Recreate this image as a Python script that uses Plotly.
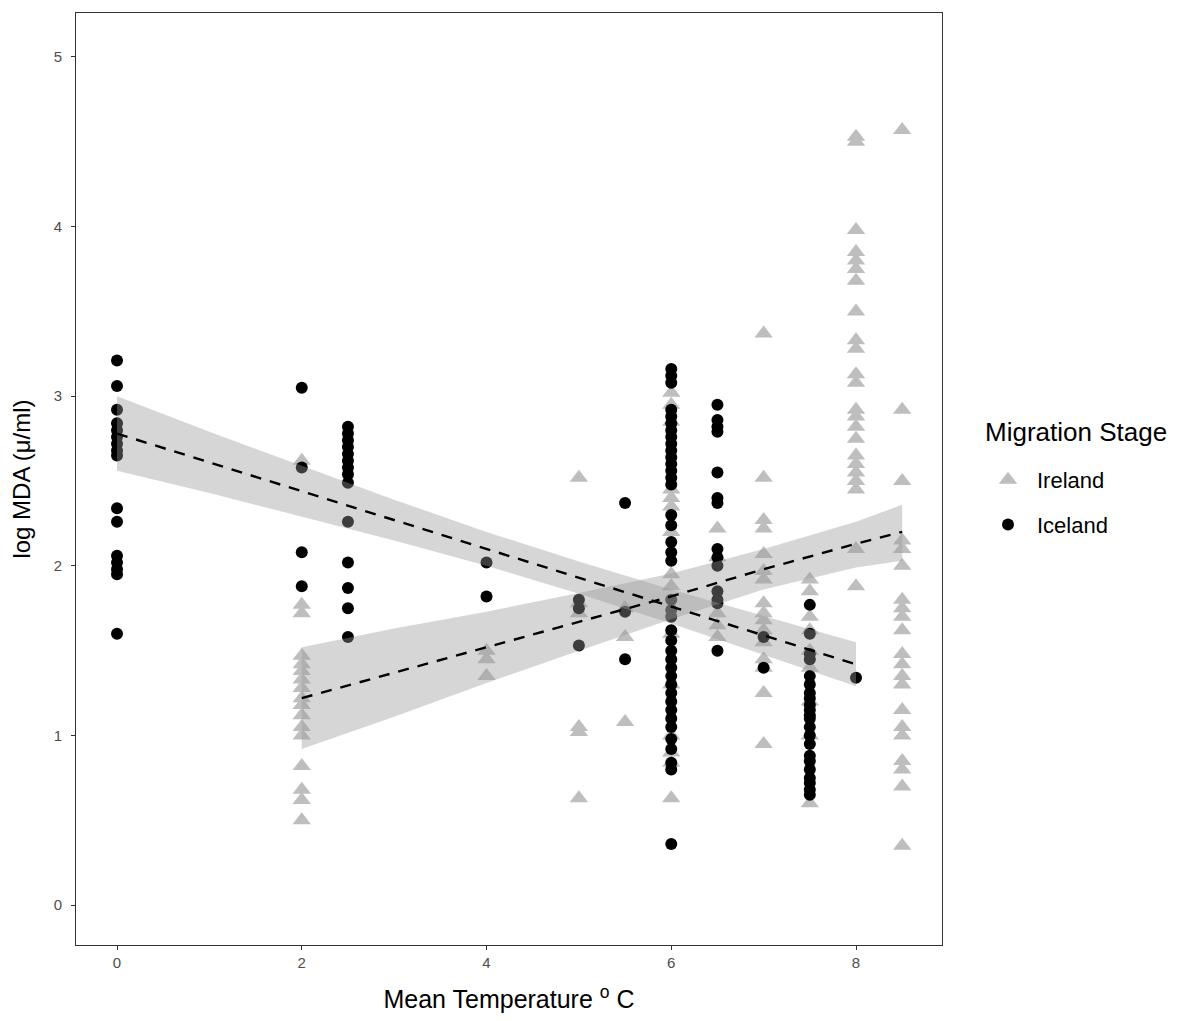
import plotly.graph_objects as go

# ---- data ----
ireland_x = ([2]*17 + [4]*3 + [5]*6 + [5.5]*3 + [6]*15 + [6.5]*5 + [7]*16 + [7.5]*9
             + [8]*23 + [8.5]*21)
ireland_y = ([2.62, 1.77, 1.72, 1.47, 1.42, 1.38, 1.33, 1.28, 1.22, 1.18, 1.12, 1.05, 1.00, 0.82, 0.68, 0.62, 0.50]
             + [1.50, 1.45, 1.35]
             + [2.52, 1.78, 1.72, 1.05, 1.02, 0.63]
             + [1.75, 1.58, 1.08]
             + [3.02, 2.95, 2.85, 2.45, 2.40, 2.35, 2.20, 1.95, 1.88, 1.60, 1.30, 1.00, 0.90, 0.84, 0.63]
             + [2.22, 2.05, 1.72, 1.65, 1.58]
             + [3.37, 2.52, 2.27, 2.22, 2.07, 1.97, 1.92, 1.78, 1.72, 1.68, 1.62, 1.55, 1.45, 1.40, 1.25, 0.95]
             + [1.92, 1.85, 1.70, 1.62, 1.50, 1.40, 1.20, 1.00, 0.60]
             + [4.53, 4.50, 3.98, 3.85, 3.80, 3.75, 3.68, 3.50, 3.33, 3.28, 3.13, 3.08, 2.92, 2.88, 2.82,
                2.75, 2.65, 2.60, 2.55, 2.50, 2.45, 2.10, 1.88]
             + [4.57, 2.92, 2.50, 2.15, 2.10, 2.00, 1.80, 1.75, 1.70, 1.62, 1.48, 1.42, 1.35, 1.30, 1.15,
                1.05, 1.00, 0.85, 0.80, 0.70, 0.35])

iceland_x = ([0]*16 + [2]*4 + [2.5]*14 + [4]*2 + [5]*3 + [5.5]*3 + [6]*40 + [6.5]*14 + [7]*2
             + [7.5]*22 + [8]*1)
iceland_y = ([3.21, 3.06, 2.92, 2.84, 2.80, 2.76, 2.72, 2.68, 2.65, 2.34, 2.26, 2.06, 2.02, 1.98, 1.95, 1.60]
             + [3.05, 2.58, 2.08, 1.88]
             + [2.82, 2.78, 2.74, 2.70, 2.66, 2.62, 2.58, 2.54, 2.49, 2.26, 2.02, 1.87, 1.75, 1.58]
             + [2.02, 1.82]
             + [1.80, 1.75, 1.53]
             + [2.37, 1.73, 1.45]
             + [3.16, 3.12, 3.08, 2.92, 2.88, 2.84, 2.80, 2.76, 2.72, 2.68, 2.64, 2.60, 2.56, 2.52, 2.48,
                2.30, 2.24, 2.14, 2.08, 2.03, 1.80, 1.74, 1.70, 1.62, 1.56, 1.50, 1.45, 1.40, 1.35, 1.30,
                1.25, 1.20, 1.15, 1.10, 1.05, 0.98, 0.92, 0.84, 0.80, 0.36]
             + [2.95, 2.86, 2.82, 2.79, 2.55, 2.40, 2.37, 2.10, 2.05, 2.00, 1.85, 1.80, 1.78, 1.50]
             + [1.58, 1.40]
             + [1.77, 1.60, 1.48, 1.45, 1.35, 1.30, 1.25, 1.22, 1.18, 1.15, 1.12, 1.10, 1.05, 1.00,
                0.95, 0.88, 0.85, 0.80, 0.75, 0.72, 0.68, 0.65]
             + [1.34])

# fitted lines and confidence bands
ice_fit_x = [0, 1, 2, 3, 4, 5, 6, 7, 8]
ice_fit_y = [2.78, 2.61, 2.44, 2.27, 2.10, 1.93, 1.76, 1.59, 1.42]
ice_hi = [3.00, 2.79, 2.59, 2.39, 2.20, 2.025, 1.86, 1.705, 1.55]
ice_lo = [2.56, 2.43, 2.29, 2.15, 2.00, 1.835, 1.66, 1.475, 1.29]

ire_fit_x = [2, 3, 4, 5, 6, 7, 8, 8.5]
ire_fit_y = [1.22, 1.37, 1.52, 1.67, 1.82, 1.98, 2.13, 2.20]
ire_hi = [1.52, 1.63, 1.73, 1.84, 1.955, 2.10, 2.26, 2.36]
ire_lo = [0.92, 1.11, 1.31, 1.50, 1.685, 1.86, 1.99, 2.03]

x_ticks = [0, 2, 4, 6, 8]
y_ticks = [0, 1, 2, 3, 4, 5]

FONT = "Liberation Sans, Arial, sans-serif"
W, H = 1164, 1005
L, R, T, B = 68, 230, 4, 67
PW, PH = W - L - R, H - T - B

fig = go.Figure()

fig.add_trace(go.Scatter(
    x=ireland_x, y=ireland_y, mode="markers", name="Ireland", legendgroup="ire",
    marker=dict(symbol="triangle-up", size=16, color="#bebebe", line=dict(width=0)),
))
fig.add_trace(go.Scatter(
    x=iceland_x, y=iceland_y, mode="markers", name="Iceland", legendgroup="ice",
    marker=dict(symbol="circle", size=12, color="#000000", line=dict(width=0)),
))

for fx, lo, hi in [(ire_fit_x, ire_lo, ire_hi), (ice_fit_x, ice_lo, ice_hi)]:
    fig.add_trace(go.Scatter(
        x=list(fx) + list(fx)[::-1], y=list(hi) + list(lo)[::-1],
        mode="lines", fill="toself", fillcolor="rgba(153,153,153,0.4)",
        line=dict(width=0, color="rgba(0,0,0,0)"), showlegend=False, hoverinfo="skip",
    ))

for fx, fy in [(ire_fit_x, ire_fit_y), (ice_fit_x, ice_fit_y)]:
    fig.add_trace(go.Scatter(
        x=fx, y=fy, mode="lines", line=dict(color="black", width=2.4, dash="11px,9px"),
        showlegend=False, hoverinfo="skip",
    ))

axis_common = dict(
    showgrid=False, zeroline=False, showline=True, mirror=True,
    linecolor="#333333", linewidth=1, ticks="outside", ticklen=4,
    tickcolor="#333333", tickwidth=1,
    tickfont=dict(family=FONT, size=15, color="#4d4d4d"),
)

fig.update_layout(
    width=W, height=H,
    margin=dict(l=L, r=R, t=T, b=B),
    plot_bgcolor="white", paper_bgcolor="white",
    font=dict(family=FONT),
    xaxis=dict(range=[-0.444, 8.931], tickvals=x_ticks, ticktext=[str(v) for v in x_ticks],
               title=dict(text="Mean Temperature <sup>o</sup> C", font=dict(size=25, color="black"),
                          standoff=20),
               **axis_common),
    yaxis=dict(range=[-0.235, 5.259], tickvals=y_ticks, ticktext=[str(v) for v in y_ticks],
               ticklabelstandoff=6,
               title=dict(text="log MDA (\u03bc/ml)", font=dict(size=24, color="black"), standoff=17),
               **axis_common),
    legend=dict(
        x=(971 - L) / PW, y=1 - (451 - T) / PH, xanchor="left", yanchor="top",
        font=dict(size=22, color="black"), tracegroupgap=13, itemwidth=48,
        bgcolor="rgba(0,0,0,0)",
    ),
    annotations=[dict(
        text="Migration Stage", xref="paper", yref="paper",
        x=(975 - L) / PW, y=1 - (424 - T) / PH,
        xanchor="left", yanchor="middle", showarrow=False,
        font=dict(family=FONT, size=26, color="black"),
    )],
    showlegend=True,
)

fig.write_html("out.html")
